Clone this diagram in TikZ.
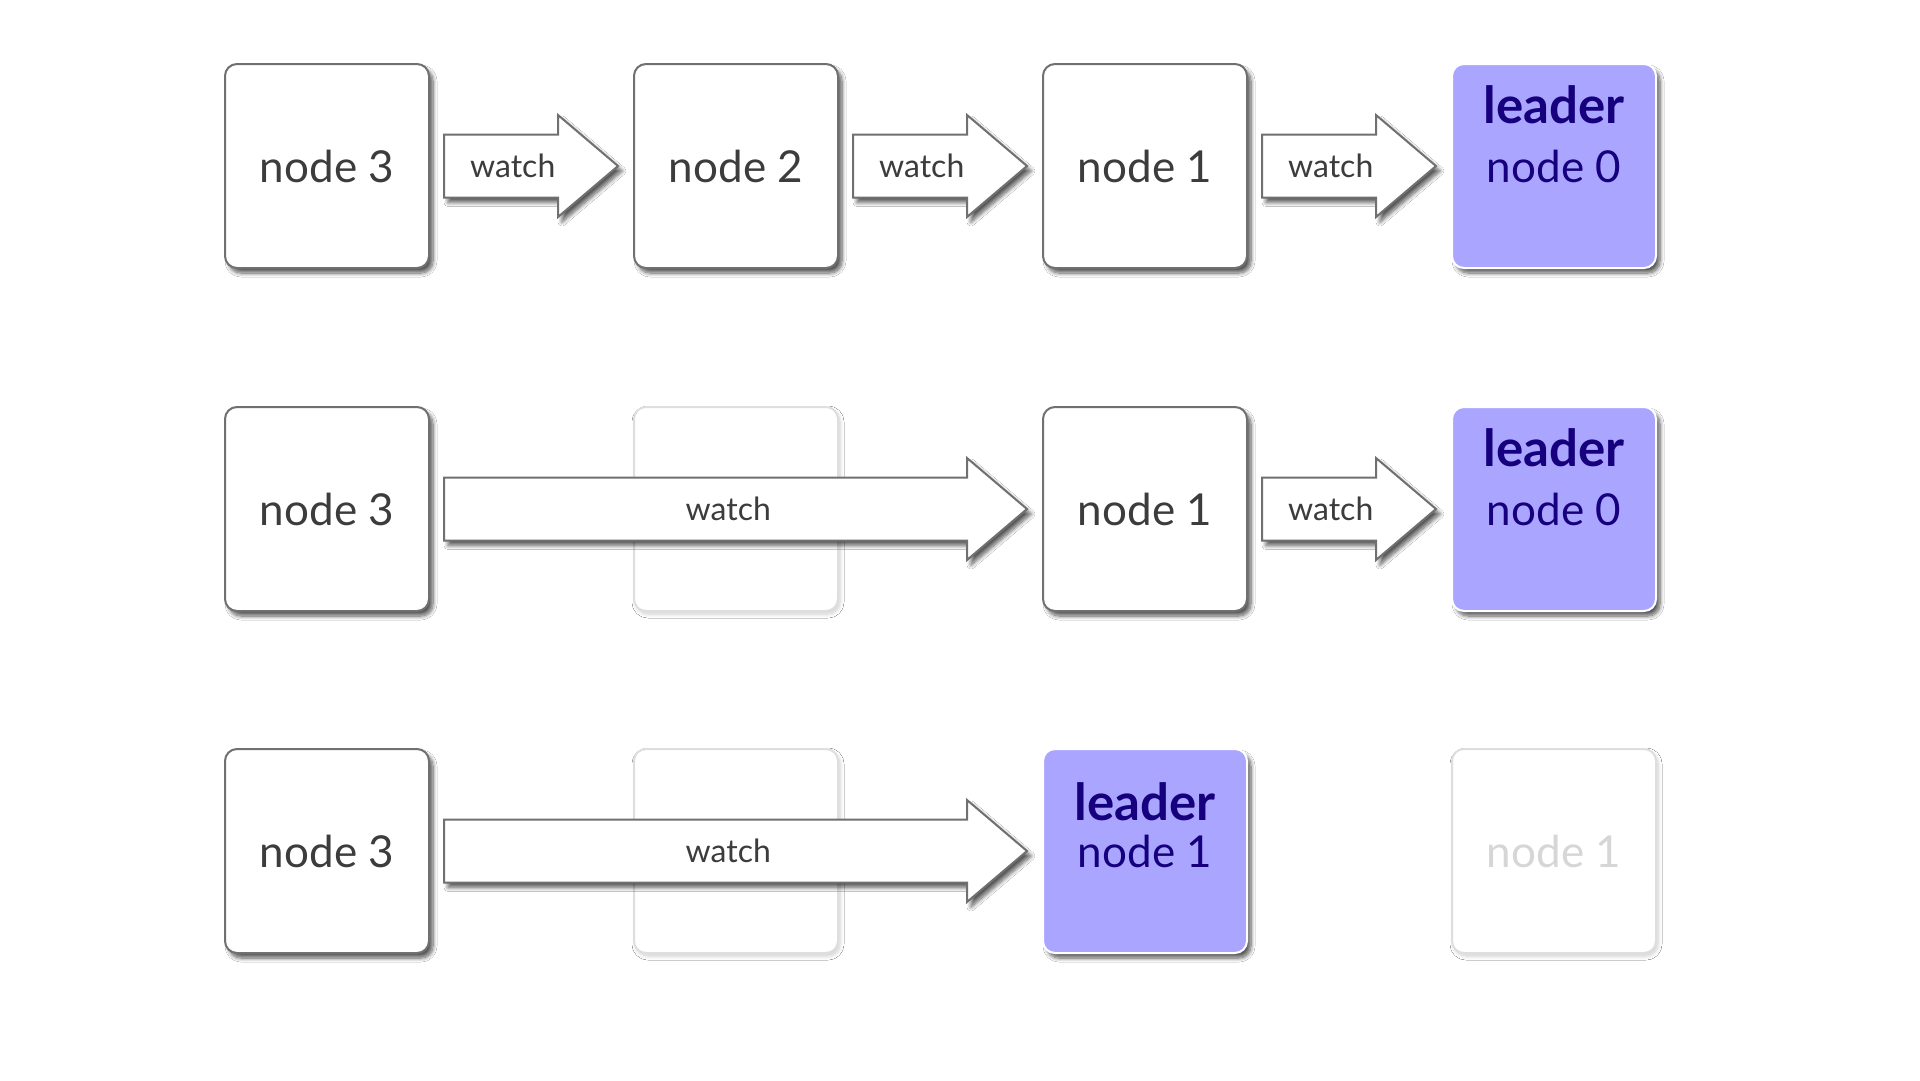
\documentclass[tikz,border=0pt]{standalone}
\usepackage{fontspec}
\setmainfont{Lato}
\usetikzlibrary{calc,shadows.blur}
\definecolor{boxgray}{RGB}{112,112,112}
\definecolor{textgray}{RGB}{60,60,60}
\definecolor{leaderfill}{RGB}{170,166,255}
\definecolor{leadertext}{RGB}{22,0,125}
\definecolor{fadeline}{RGB}{222,222,222}
\definecolor{fadetext}{RGB}{214,214,214}
\tikzset{
  box/.style={draw=boxgray, line width=2pt, rounded corners=12pt, fill=white,
    minimum width=204pt, minimum height=204pt, inner sep=0pt,
    blur shadow={shadow xshift=4pt, shadow yshift=-5pt, shadow blur steps=8, shadow opacity=65, shadow blur radius=4pt},
    text=textgray, font=\fontsize{44}{50}\selectfont},
  leaderbox/.style={box, draw=white, fill=leaderfill},
  fadebox/.style={box, draw=fadeline,
    blur shadow={shadow xshift=2pt, shadow yshift=-3pt, shadow blur steps=8, shadow opacity=10, shadow blur radius=4pt},
    text=fadetext},
  leaderword/.style={text=leadertext, font=\fontsize{51}{54}\selectfont\bfseries, inner sep=0pt},
  leadername/.style={text=leadertext, font=\fontsize{44}{50}\selectfont, inner sep=0pt},
  arrowbody/.style={draw=boxgray, line width=2pt, fill=white, line join=miter,
    blur shadow={shadow xshift=4pt, shadow yshift=-5pt, shadow blur steps=8, shadow opacity=65, shadow blur radius=4pt}},
  watchlabel/.style={text=textgray, font=\fontsize{32}{36}\selectfont, inner sep=0pt}
}
% #1 label name, #2 from node, #3 to node
\newcommand\watcharrow[3]{%
  \draw[arrowbody] let \p1=($(#2.east)+(14,0)$), \p2=($(#3.west)+(-15,0)$) in
    (\x1,\y1+31.5pt) -- (\x2-60pt,\y1+31.5pt) -- (\x2-60pt,\y1+51pt) -- (\x2,\y1)
    -- (\x2-60pt,\y1-51pt) -- (\x2-60pt,\y1-31.5pt) -- (\x1,\y1-31.5pt) -- cycle
    node[watchlabel, name=#1] at ({\x1+0.527*(\x2-\x1)-23pt},\y1) {watch};
}
\begin{document}
\begin{tikzpicture}[x=1pt,y=-1pt]
\useasboundingbox[fill=white] (0,0) rectangle (1920,1080);

% row 1
\node[box] (a3) at (327,166) {node 3};
\node[box] (a2) at (736,166) {node 2};
\node[box] (a1) at (1145,166) {node 1};
\node[leaderbox] (a0) at (1554,166) {};
\node[leaderword] (a0l) at ($(a0.center)+(0,-61)$) {leader};
\node[leadername] (a0n) at (a0.center) {node 0};
\watcharrow{wa1}{a3}{a2}
\watcharrow{wa2}{a2}{a1}
\watcharrow{wa3}{a1}{a0}

% row 2
\node[box] (b3) at (327,509) {node 3};
\node[fadebox] (b2) at (736,509) {};
\node[box] (b1) at (1145,509) {node 1};
\node[leaderbox] (b0) at (1554,509) {};
\node[leaderword] (b0l) at ($(b0.center)+(0,-61)$) {leader};
\node[leadername] (b0n) at (b0.center) {node 0};
\watcharrow{wb1}{b3}{b1}
\watcharrow{wb2}{b1}{b0}

% row 3
\node[box] (c3) at (327,851) {node 3};
\node[fadebox] (c2) at (736,851) {};
\node[leaderbox] (c1) at (1145,851) {};
\node[leaderword] (c1l) at ($(c1.center)+(0,-49)$) {leader};
\node[leadername] (c1n) at (c1.center) {node 1};
\node[fadebox] (c0) at (1554,851) {node 1};
\watcharrow{wc1}{c3}{c1}
\end{tikzpicture}
\end{document}
